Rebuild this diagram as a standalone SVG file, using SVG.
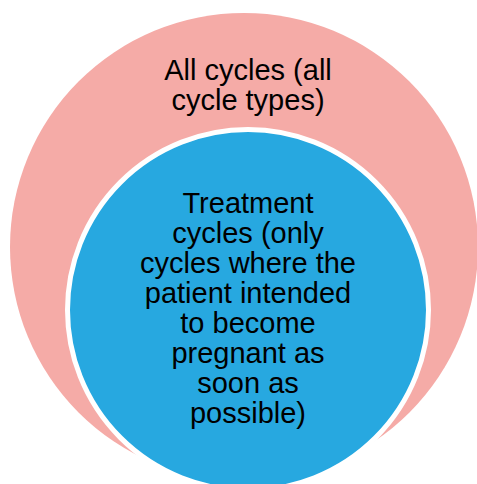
<svg xmlns="http://www.w3.org/2000/svg" width="477" height="484" viewBox="0 0 477 484">
<style>
.t{font-family:"Liberation Sans",Arial,sans-serif;font-size:29px;fill:#000;text-anchor:middle}
</style>
<rect width="477" height="484" fill="#fff"/>
<g id="all-cycles">
<circle cx="244" cy="247" r="234" fill="#F5ABA7"/>
<text class="t" x="248" y="80">All cycles (all</text>
<text class="t" x="248" y="110">cycle types)</text>
</g>
<g id="treatment-cycles">
<circle cx="248" cy="310" r="180.5" fill="#27A8E0" stroke="#fff" stroke-width="5"/>
<text class="t" x="248" y="212.5">Treatment</text>
<text class="t" x="248" y="242.5">cycles (only</text>
<text class="t" x="248" y="272.5">cycles where the</text>
<text class="t" x="248" y="302.5">patient intended</text>
<text class="t" x="248" y="332.5">to become</text>
<text class="t" x="248" y="362.5">pregnant as</text>
<text class="t" x="248" y="392.5">soon as</text>
<text class="t" x="248" y="422.5">possible)</text>
</g>
<g id="connectors"/>
</svg>
